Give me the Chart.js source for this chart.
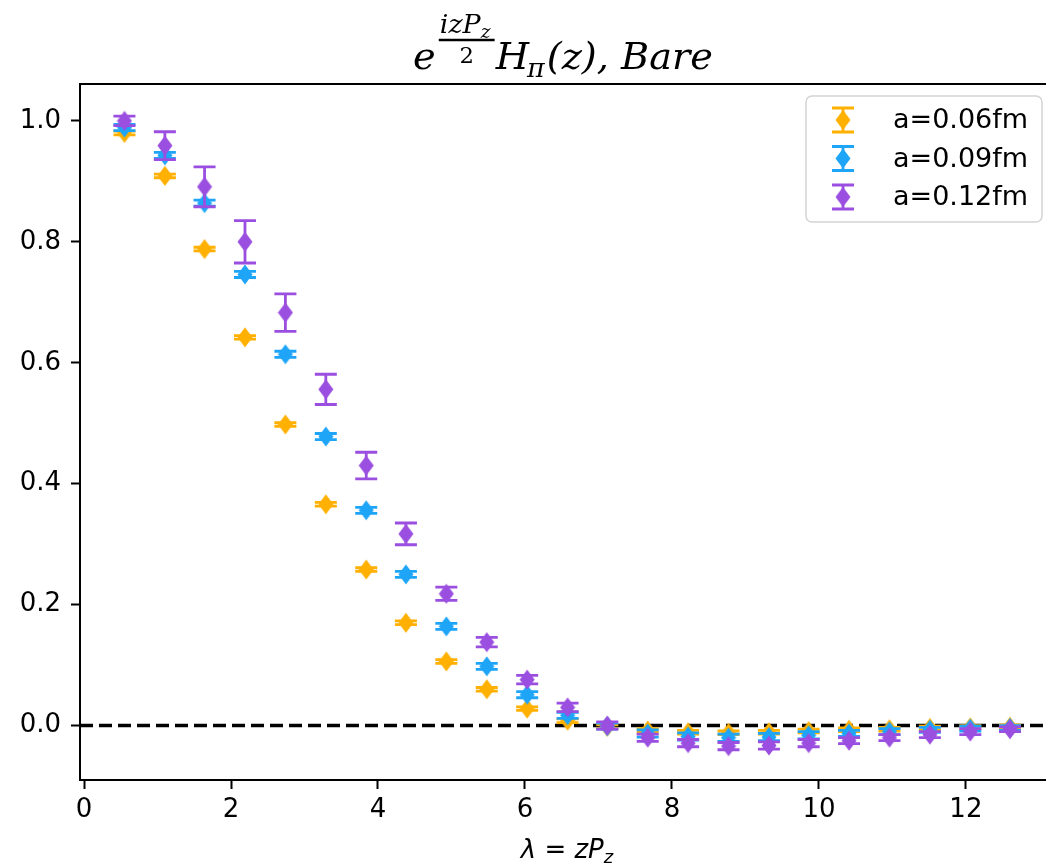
<!DOCTYPE html>
<html>
<head>
<meta charset="utf-8">
<script src="https://cdn.jsdelivr.net/npm/chart.js@4.4.1/dist/chart.umd.min.js"></script>
<style>
  html, body { margin: 0; padding: 0; background: #fff; }
</style>
</head>
<body>
<canvas id="hpiChart" width="1046" height="865"></canvas>
<script>
// lambda = z * P_z
const lambda = [0.55, 1.10, 1.64, 2.19, 2.74, 3.29, 3.84, 4.38, 4.93, 5.48, 6.03, 6.58,
                7.12, 7.67, 8.22, 8.77, 9.32, 9.86, 10.41, 10.96, 11.51, 12.06, 12.60];
const seriesLabels = ['a=0.06fm', 'a=0.09fm', 'a=0.12fm'];
const seriesColors = ['#ffb000', '#1fa5f8', '#9b4fe0'];

const hBare006 = [0.980, 0.909, 0.788, 0.642, 0.498, 0.366, 0.258, 0.170, 0.106, 0.060, 0.028, 0.008,
                  -0.002, -0.008, -0.011, -0.012, -0.011, -0.009, -0.007, -0.006, -0.004, -0.003, -0.002];
const err006 = [0.003, 0.003, 0.003, 0.003, 0.003, 0.003, 0.003, 0.003, 0.003, 0.003, 0.003, 0.003,
                0.003, 0.003, 0.003, 0.003, 0.003, 0.003, 0.003, 0.003, 0.003, 0.003, 0.003];

const hBare009 = [0.989, 0.943, 0.864, 0.746, 0.614, 0.478, 0.356, 0.250, 0.164, 0.098, 0.051, 0.017,
                  -0.001, -0.013, -0.018, -0.020, -0.019, -0.016, -0.013, -0.010, -0.007, -0.005, -0.004];
const err009 = [0.005, 0.005, 0.005, 0.005, 0.005, 0.005, 0.005, 0.005, 0.005, 0.005, 0.005, 0.005,
                0.005, 0.006, 0.006, 0.006, 0.006, 0.006, 0.005, 0.005, 0.004, 0.004, 0.004];

const hBare012 = [1.000, 0.959, 0.891, 0.800, 0.683, 0.556, 0.430, 0.317, 0.218, 0.138, 0.076, 0.030,
                  0.000, -0.020, -0.029, -0.034, -0.033, -0.029, -0.025, -0.020, -0.015, -0.010, -0.006];
const err012 = [0.008, 0.023, 0.033, 0.035, 0.031, 0.025, 0.022, 0.018, 0.011, 0.008, 0.007, 0.007,
                0.006, 0.006, 0.006, 0.006, 0.006, 0.006, 0.005, 0.005, 0.005, 0.005, 0.004];

const xTicks = [0, 2, 4, 6, 8, 10, 12];
const yTicks = [0.0, 0.2, 0.4, 0.6, 0.8, 1.0];

const values = [hBare006, hBare009, hBare012];
const errors = [err006, err009, err012];

// thin diamond marker, like matplotlib 'd'
function makeDiamond(color) {
    const c = document.createElement('canvas');
    c.width = 16;
    c.height = 21;
    const g = c.getContext('2d');
    g.fillStyle = color;
    g.beginPath();
    g.moveTo(8, 0.5);
    g.lineTo(15.5, 10.5);
    g.lineTo(8, 20.5);
    g.lineTo(0.5, 10.5);
    g.closePath();
    g.fill();
    return c;
}

const datasets = seriesLabels.map((label, i) => ({
    label: label,
    data: lambda.map((x, j) => ({ x: x, y: values[i][j] })),
    errors: errors[i],
    pointStyle: makeDiamond(seriesColors[i]),
    borderColor: seriesColors[i],
    backgroundColor: seriesColors[i],
    showLine: false,
    order: 2 - i   // later series on top
}));

function drawErrorBar(ctx, px, top, bot) {
    ctx.beginPath();
    ctx.moveTo(px, top); ctx.lineTo(px, bot);
    ctx.moveTo(px - 11, top); ctx.lineTo(px + 11, top);
    ctx.moveTo(px - 11, bot); ctx.lineTo(px + 11, bot);
    ctx.stroke();
}

// error bars with caps, drawn under each series' markers
const errorBars = {
    id: 'errorBars',
    beforeDatasetDraw(chart, args) {
        const ds = chart.data.datasets[args.index];
        const xs = chart.scales.x, ys = chart.scales.y;
        const ctx = chart.ctx;
        ctx.save();
        ctx.strokeStyle = ds.borderColor;
        ctx.lineWidth = 2.8;
        ds.data.forEach((p, j) => {
            drawErrorBar(ctx, xs.getPixelForValue(p.x),
                ys.getPixelForValue(p.y + ds.errors[j]),
                ys.getPixelForValue(p.y - ds.errors[j]));
        });
        ctx.restore();
    }
};

// dashed line at zero
const zeroLine = {
    id: 'zeroLine',
    beforeDatasetsDraw(chart) {
        const { ctx, chartArea } = chart;
        const y0 = chart.scales.y.getPixelForValue(0);
        ctx.save();
        ctx.strokeStyle = '#000';
        ctx.lineWidth = 3.5;
        ctx.setLineDash([13, 6]);
        ctx.beginPath();
        ctx.moveTo(chartArea.left, y0);
        ctx.lineTo(chartArea.right, y0);
        ctx.stroke();
        ctx.restore();
    }
};

// top spine, legend, title and x label
const decorations = {
    id: 'decorations',
    afterDraw(chart) {
        const { ctx, chartArea } = chart;
        ctx.save();

        // top spine
        ctx.strokeStyle = '#000';
        ctx.lineWidth = 2;
        ctx.beginPath();
        ctx.moveTo(chartArea.left - 1, chartArea.top);
        ctx.lineTo(chartArea.right, chartArea.top);
        ctx.stroke();

        // legend
        const lx = 806, ly = 96, lw = 236, lh = 126;
        ctx.fillStyle = 'rgba(255,255,255,0.85)';
        ctx.strokeStyle = '#d4d4d4';
        ctx.lineWidth = 1.5;
        ctx.beginPath();
        ctx.roundRect(lx, ly, lw, lh, 6);
        ctx.fill();
        ctx.stroke();
        ctx.font = '27px "DejaVu Sans"';
        ctx.textBaseline = 'middle';
        ctx.textAlign = 'left';
        chart.data.datasets.forEach((ds, i) => {
            const cy = 120 + i * 38.5;
            const cx = 843;
            ctx.strokeStyle = ds.borderColor;
            ctx.lineWidth = 2.8;
            drawErrorBar(ctx, cx, cy - 12, cy + 12);
            ctx.drawImage(ds.pointStyle, cx - 8, cy - 10.5);
            ctx.fillStyle = '#000';
            ctx.fillText(ds.label, 893, cy + 1);
        });

        // title: e^{izP_z/2} H_pi(z), Bare
        ctx.fillStyle = '#000';
        ctx.strokeStyle = '#000';
        ctx.textBaseline = 'alphabetic';
        const big = 'italic 37px "DejaVu Serif"';
        const small = 'italic 26px "DejaVu Serif"';
        const tiny = 'italic 18px "DejaVu Serif"';
        ctx.font = big;
        const wE = ctx.measureText('e').width;
        const wH = ctx.measureText('H').width;
        const wRest = ctx.measureText('(z), Bare').width;
        ctx.font = small;
        const wNum0 = ctx.measureText('izP').width;
        const wPi = ctx.measureText('\u03c0').width;
        ctx.font = tiny;
        const wNumSub = ctx.measureText('z').width;
        const fracW = wNum0 + wNumSub + 5;
        const total = wE + 3 + fracW + 1 + wH + wPi + wRest;
        const sx = 300 / total;
        ctx.translate(413, 0);
        ctx.scale(sx, 1);
        let x = 0;
        ctx.font = big;
        ctx.fillText('e', x, 69);
        x += wE + 3;
        // fraction
        ctx.lineWidth = 2.4;
        ctx.beginPath();
        ctx.moveTo(x, 40); ctx.lineTo(x + fracW, 40);
        ctx.stroke();
        ctx.font = small;
        ctx.fillText('izP', x + 1, 33);
        ctx.font = tiny;
        ctx.fillText('z', x + 1 + wNum0, 38);
        ctx.font = '22px "DejaVu Serif"';
        ctx.textAlign = 'center';
        ctx.fillText('2', x + fracW / 2, 63);
        ctx.textAlign = 'left';
        x += fracW + 1;
        ctx.font = big;
        ctx.fillText('H', x, 69);
        x += wH;
        ctx.font = small;
        ctx.fillText('\u03c0', x - 2, 77);
        x += wPi;
        ctx.font = big;
        ctx.fillText('(z), Bare', x, 69);
        ctx.setTransform(1, 0, 0, 1, 0, 0);

        // x label: lambda = zP_z
        ctx.font = 'italic 26px "DejaVu Sans"';
        const part = '\u03bb = zP';
        const wPart = ctx.measureText(part).width;
        ctx.font = 'italic 18px "DejaVu Sans"';
        const wSub = ctx.measureText('z').width;
        const xl = 567 - (wPart + wSub) / 2;
        ctx.font = 'italic 26px "DejaVu Sans"';
        ctx.fillText(part, xl, 858);
        ctx.font = 'italic 18px "DejaVu Sans"';
        ctx.fillText('z', xl + wPart, 863);

        ctx.restore();
    }
};

const tickFont = { family: 'DejaVu Sans', size: 26 };

new Chart(document.getElementById('hpiChart').getContext('2d'), {
    type: 'scatter',
    data: { datasets: datasets },
    options: {
        responsive: false,
        animation: false,
        layout: { autoPadding: false, padding: { top: 84, right: 0, left: 0, bottom: 0 } },
        plugins: {
            legend: { display: false },
            tooltip: { enabled: false }
        },
        elements: { point: { radius: 8 } },
        scales: {
            x: {
                type: 'linear',
                min: -0.055,
                max: 13.09,
                afterBuildTicks: (s) => { s.ticks = xTicks.map(v => ({ value: v })); },
                afterFit: (s) => { s.height = 85; },
                ticks: {
                    font: tickFont,
                    color: '#000',
                    padding: 6,
                    maxRotation: 0,
                    callback: (v) => String(v)
                },
                grid: { drawOnChartArea: false, tickLength: 9, tickWidth: 2, tickColor: '#000' },
                border: { display: true, color: '#000', width: 2 }
            },
            y: {
                type: 'linear',
                min: -0.090,
                max: 1.061,
                afterBuildTicks: (s) => { s.ticks = yTicks.map(v => ({ value: v })); },
                afterFit: (s) => { s.width = 80; },
                ticks: {
                    font: tickFont,
                    color: '#000',
                    padding: 10,
                    callback: (v) => v.toFixed(1)
                },
                grid: { drawOnChartArea: false, tickLength: 9, tickWidth: 2, tickColor: '#000' },
                border: { display: true, color: '#000', width: 2 }
            }
        }
    },
    plugins: [errorBars, zeroLine, decorations]
});
</script>
</body>
</html>
